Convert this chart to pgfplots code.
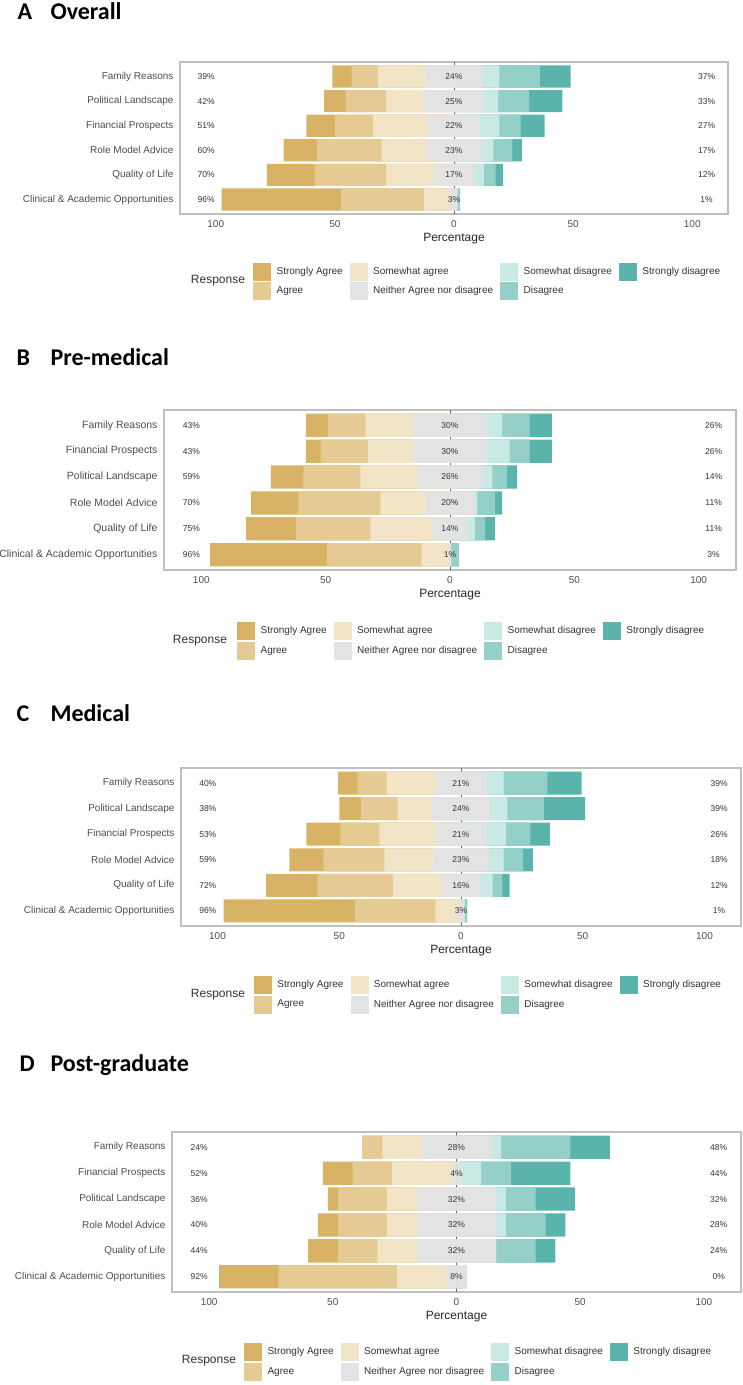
\documentclass[border=0pt]{standalone}
\usepackage{fontspec}
\setmainfont{Liberation Sans}
\newfontfamily\titlefont{Carlito}
\usepackage{pgfplots}
\usepackage{pgfplotstable}
\pgfplotsset{compat=1.18}

\definecolor{cSA}{HTML}{D8B365}
\definecolor{cA}{HTML}{E5CA94}
\definecolor{cSWA}{HTML}{F2E4C6}
\definecolor{cN}{HTML}{E3E3E3}
\definecolor{cSWD}{HTML}{C9E9E4}
\definecolor{cD}{HTML}{94D0C7}
\definecolor{cSD}{HTML}{5AB4AC}
\definecolor{txt}{HTML}{4D4D4D}

% rows listed top to bottom: SA A SWA N SWD D SD | left, centre, right labels
\pgfplotstableread{
row SA A SWA N SWD D SD L C R
0 8 11 20 24 7 17 13 39 24 37
1 9 17 16 25 6 13 14 42 25 33
2 12 16 23 22 8 9 10 51 22 27
3 14 27 19 23 5 8 4 60 23 17
4 20 30 20 17 4 5 3 70 17 12
5 50 35 11 3 0 1 0 96 3 1
}\tabA
\pgfplotstableread{
row SA A SWA N SWD D SD L C R
0 9 15 19 30 6 11 9 43 30 26
1 6 19 18 30 9 8 9 43 30 26
2 13 23 23 26 4 6 4 59 26 14
3 19 33 18 20 1 7 3 70 20 11
4 20 30 25 14 3 4 4 75 14 11
5 47 38 11 1 0 3 0 96 1 3
}\tabB
\pgfplotstableread{
row SA A SWA N SWD D SD L C R
0 8 12 20 21 7 18 14 40 21 39
1 9 15 14 24 7 15 17 38 24 39
2 14 16 23 21 8 10 8 53 21 26
3 14 25 20 23 6 8 4 59 23 18
4 21 31 20 16 5 4 3 72 16 12
5 54 33 9 3 0 1 0 96 3 1
}\tabC
\pgfplotstableread{
row SA A SWA N SWD D SD L C R
0 0 8 16 28 4 28 16 24 28 48
1 12 16 24 4 8 12 24 52 4 44
2 4 20 12 32 4 12 16 36 32 32
3 8 20 12 32 4 16 8 40 32 28
4 12 16 16 32 0 16 8 44 32 24
5 24 48 20 8 0 0 0 92 8 0
}\tabD

\pgfplotsset{
  likert/.style={
    scale only axis, anchor=south west,
    xmin=-115, xmax=115, ymin=-0.59, ymax=5.59, y dir=reverse,
    xtick={-100,-50,0,50,100}, xticklabels={100,50,0,50,100},
    ytick={0,1,2,3,4,5},
    tick style={draw=none},
    axis line style={draw=black!25, line width=1.1pt},
    xlabel={Percentage},
    xlabel style={at={(axis description cs:0.5,0)}, anchor=center, yshift=-25pt,
      font=\fontsize{12}{14}\selectfont, text=black!85},
    xticklabel style={font=\fontsize{10}{12}\selectfont, text=txt, yshift=-3pt},
    yticklabel style={font=\fontsize{10}{12}\selectfont, text=txt, xshift=-3pt},
    legend columns=4,
    legend cell align=left,
    legend style={draw=none, fill=none, inner sep=0pt, anchor=north west,
      font=\fontsize{10}{12}\selectfont, text=black!80,
      column sep=4pt, row sep=2pt,
      /tikz/every even column/.append style={column sep=5pt}},
  },
  lbar/.style={xbar, bar shift=0pt, bar width=0.9, draw=none, forget plot, fill=#1},
  plab/.style={forget plot, draw=none, mark=none, point meta=explicit,
    /pgf/number format/assume math mode=true,
    nodes near coords={\pgfmathprintnumber{\pgfplotspointmeta}\%},
    nodes near coords align={center},
    every node near coord/.append style={font=\fontsize{8.5}{10}\selectfont, text=black!80, anchor=center}},
}

\newcommand{\likertbars}[1]{%
  \addplot[forget plot, black!60, line width=0.7pt] coordinates {(0,-0.59) (0,5.59)};
  \addplot[lbar=cSA] table[y=row, x expr={-(\thisrow{N}/2+\thisrow{SWA}+\thisrow{A}+\thisrow{SA})}] {#1};
  \addplot[lbar=cA] table[y=row, x expr={-(\thisrow{N}/2+\thisrow{SWA}+\thisrow{A})}] {#1};
  \addplot[lbar=cSWA] table[y=row, x expr={-(\thisrow{N}/2+\thisrow{SWA})}] {#1};
  \addplot[lbar=cSD] table[y=row, x expr={\thisrow{N}/2+\thisrow{SWD}+\thisrow{D}+\thisrow{SD}}] {#1};
  \addplot[lbar=cD] table[y=row, x expr={\thisrow{N}/2+\thisrow{SWD}+\thisrow{D}}] {#1};
  \addplot[lbar=cSWD] table[y=row, x expr={\thisrow{N}/2+\thisrow{SWD}}] {#1};
  \addplot[lbar=cN] table[y=row, x expr={-\thisrow{N}/2}] {#1};
  \addplot[lbar=cN] table[y=row, x expr={\thisrow{N}/2}] {#1};
  \addplot[plab] table[y=row, x expr={-104}, meta=L] {#1};
  \addplot[plab] table[y=row, x expr={0}, meta=C] {#1};
  \addplot[plab] table[y=row, x expr={106}, meta=R] {#1};
  \addlegendimage{legend image code/.code={\fill[cSA] (0pt,-8.5pt) rectangle (17pt,8.5pt);}}
  \addlegendentry{Strongly Agree}
  \addlegendimage{legend image code/.code={\fill[cSWA] (0pt,-8.5pt) rectangle (17pt,8.5pt);}}
  \addlegendentry{Somewhat agree}
  \addlegendimage{legend image code/.code={\fill[cSWD] (0pt,-8.5pt) rectangle (17pt,8.5pt);}}
  \addlegendentry{Somewhat disagree}
  \addlegendimage{legend image code/.code={\fill[cSD] (0pt,-8.5pt) rectangle (17pt,8.5pt);}}
  \addlegendentry{Strongly disagree}
  \addlegendimage{legend image code/.code={\fill[cA] (0pt,-8.5pt) rectangle (17pt,8.5pt);}}
  \addlegendentry{Agree}
  \addlegendimage{legend image code/.code={\fill[cN] (0pt,-8.5pt) rectangle (17pt,8.5pt);}}
  \addlegendentry{Neither Agree nor disagree}
  \addlegendimage{legend image code/.code={\fill[cD] (0pt,-8.5pt) rectangle (17pt,8.5pt);}}
  \addlegendentry{Disagree}
}

\begin{document}
\begin{tikzpicture}
\useasboundingbox (0pt,0pt) rectangle (743pt,-1385pt);
\tikzset{ttl/.style={anchor=base west, font=\titlefont\bfseries\fontsize{24}{28}\selectfont},
         resp/.style={anchor=center, font=\fontsize{12}{14}\selectfont, text=black!80}}

% ---------------- A
\node[ttl] at (14pt,-19pt) {A};
\node[ttl] at (47pt,-19pt) {Overall};
\begin{axis}[likert, at={(180pt,-214pt)}, width=548pt, height=152pt,
  yticklabels={Family Reasons, Political Landscape, Financial Prospects, Role Model Advice, Quality of Life, Clinical \& Academic Opportunities},
  legend style={at={(0.1332,-0.319)}}]
\likertbars{\tabA}
\end{axis}
\node[resp] at (218pt,-281pt) {Response};

% ---------------- B
\node[ttl] at (13pt,-365pt) {B};
\node[ttl] at (47pt,-365pt) {Pre-medical};
\begin{axis}[likert, at={(164pt,-570pt)}, width=572pt, height=160pt,
  yticklabels={Family Reasons, Financial Prospects, Political Landscape, Role Model Advice, Quality of Life, Clinical \& Academic Opportunities},
  yticklabel style={font=\fontsize{10.5}{12}\selectfont},
  legend style={at={(0.1276,-0.325)}}]
\likertbars{\tabB}
\end{axis}
\node[resp] at (200pt,-641pt) {Response};

% ---------------- C
\node[ttl] at (13pt,-721pt) {C};
\node[ttl] at (47pt,-721pt) {Medical};
\begin{axis}[likert, at={(181pt,-926pt)}, width=560pt, height=158pt,
  yticklabels={Family Reasons, Political Landscape, Financial Prospects, Role Model Advice, Quality of Life, Clinical \& Academic Opportunities},
  legend style={at={(0.130,-0.316)}}]
\likertbars{\tabC}
\end{axis}
\node[resp] at (218pt,-995pt) {Response};

% ---------------- D
\node[ttl] at (16pt,-1071pt) {D};
\node[ttl] at (47pt,-1071pt) {Post-graduate};
\begin{axis}[likert, at={(172pt,-1292pt)}, width=569pt, height=160pt,
  yticklabels={Family Reasons, Financial Prospects, Political Landscape, Role Model Advice, Quality of Life, Clinical \& Academic Opportunities},
  legend style={at={(0.1265,-0.319)}}]
\likertbars{\tabD}
\end{axis}
\node[resp] at (209pt,-1361pt) {Response};
\end{tikzpicture}
\end{document}
